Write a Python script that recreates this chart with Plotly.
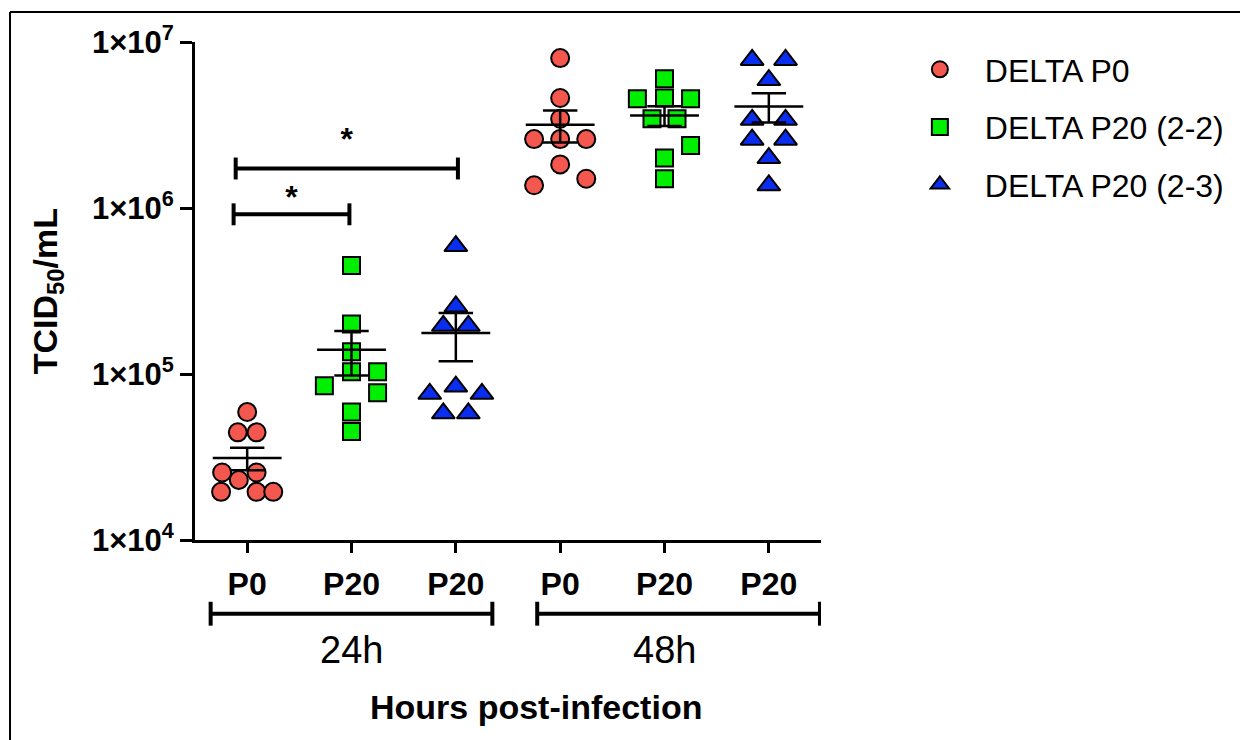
import numpy as np
import plotly.graph_objects as go

# ---------------- data ----------------
categories = ["P0", "P20", "P20", "P0", "P20", "P20"]
time_groups = ["24h", "48h"]
series_names = ["DELTA P0", "DELTA P20 (2-2)", "DELTA P20 (2-3)"]

p0_24h = [5.9e4, 4.45e4, 4.45e4, 2.55e4, 2.55e4, 2.3e4, 1.95e4, 1.95e4, 1.95e4]
p20_22_24h = [4.5e5, 2.0e5, 1.36e5, 1.03e5, 1.03e5, 8.5e4, 7.7e4, 5.9e4, 4.5e4]
p20_23_24h = [5.9e5, 2.55e5, 1.95e5, 1.95e5, 8.4e4, 7.6e4, 7.6e4, 5.8e4, 5.8e4]
p0_48h = [8.0e6, 4.6e6, 3.45e6, 2.6e6, 2.6e6, 2.6e6, 1.83e6, 1.5e6, 1.37e6]
p20_22_48h = [6.0e6, 4.55e6, 4.6e6, 4.55e6, 3.45e6, 3.45e6, 2.38e6, 2.0e6, 1.5e6]
p20_23_48h = [7.8e6, 7.8e6, 5.9e6, 3.4e6, 3.4e6, 2.58e6, 2.58e6, 2.0e6, 1.37e6]

# horizontal scatter offsets of the points within each column (category units)
p0_24h_jit = [0, -0.09, 0.09, -0.24, 0.09, -0.08, -0.25, 0.09, 0.25]
p20_22_24h_jit = [0, 0, 0, 0, 0.25, -0.26, 0.25, 0, 0]
p20_23_24h_jit = [0, 0, -0.12, 0.12, 0, -0.25, 0.25, -0.12, 0.12]
p0_48h_jit = [0, 0, 0, -0.25, 0, 0.25, 0, 0.25, -0.25]
p20_22_48h_jit = [0, -0.26, 0, 0.25, -0.12, 0.12, 0.25, 0, 0]
p20_23_48h_jit = [-0.16, 0.16, 0, -0.16, 0.16, -0.16, 0.16, 0, 0]

sig_pairs = [(0, 1), (0, 2)]
sig_labels = ["*", "*"]

# --------------- styling ---------------
colors = ["#F4574E", "#00EE00", "#0A2EF0"]
symbols = ["circle", "square", "triangle-up"]
msizes = [18, 17, 20]
FONT = "Liberation Sans, Arial, sans-serif"

series_data = [
    [(0, p0_24h, p0_24h_jit), (3, p0_48h, p0_48h_jit)],
    [(1, p20_22_24h, p20_22_24h_jit), (4, p20_22_48h, p20_22_48h_jit)],
    [(2, p20_23_24h, p20_23_24h_jit), (5, p20_23_48h, p20_23_48h_jit)],
]

fig = go.Figure()

for s, name in enumerate(series_names):
    xs, ys = [], []
    for cat, vals, jit in series_data[s]:
        xs += [cat + j for j in jit]
        ys += list(vals)
    fig.add_trace(go.Scatter(
        x=xs, y=ys, mode="markers", name=name, legendgroup=name,
        marker=dict(symbol=symbols[s], size=msizes[s], color=colors[s],
                    line=dict(color="black", width=2)),
        cliponaxis=False,
    ))

# mean and SEM lines
mx, my, ex, ey = [], [], [], []
for s in range(3):
    for cat, vals, jit in series_data[s]:
        v = np.array(vals, dtype=float)
        m = v.mean()
        sem = v.std(ddof=1) / np.sqrt(len(v))
        mx += [cat - 0.33, cat + 0.33, None]
        my += [m, m, None]
        ex += [cat, cat, None, cat - 0.165, cat + 0.165, None, cat - 0.165, cat + 0.165, None]
        ey += [m - sem, m + sem, None, m + sem, m + sem, None, m - sem, m - sem, None]
fig.add_trace(go.Scatter(x=mx, y=my, mode="lines", line=dict(color="black", width=2.5),
                         showlegend=False, hoverinfo="skip"))
fig.add_trace(go.Scatter(x=ex, y=ey, mode="lines", line=dict(color="black", width=2.5),
                         showlegend=False, hoverinfo="skip"))

# significance brackets
sig_y_log = [5.962, 6.238]
sig_star_log = [6.05, 6.395]
sig_left_off = [-0.13, -0.11]
sig_right_off = [-0.02, 0.02]
for k, (a, b) in enumerate(sig_pairs):
    x0 = a + sig_left_off[k]
    x1 = b + sig_right_off[k]
    yl = sig_y_log[k]
    fig.add_trace(go.Scatter(
        x=[x0, x0, None, x0, x1, None, x1, x1],
        y=[10 ** (yl - 0.066), 10 ** (yl + 0.066), None, 10 ** yl, 10 ** yl, None,
           10 ** (yl - 0.066), 10 ** (yl + 0.066)],
        mode="lines", line=dict(color="black", width=4), showlegend=False,
        hoverinfo="skip", cliponaxis=False))
    fig.add_trace(go.Scatter(
        x=[(x0 + x1) / 2], y=[10 ** sig_star_log[k]], mode="text", text=[sig_labels[k]],
        textfont=dict(family=FONT, size=32, color="black", weight="bold"),
        showlegend=False, hoverinfo="skip", cliponaxis=False))

# group brackets under the x axis
group_spans = [(-0.35, 2.35), (2.78, 5.49)]
group_centers = [1, 4]
for (gx0, gx1), gc, lab in zip(group_spans, group_centers, time_groups):
    fig.add_shape(type="line", xref="x", yref="paper", x0=gx0, x1=gx1, y0=-0.148, y1=-0.148,
                  line=dict(color="black", width=4))
    for gx in (gx0, gx1):
        fig.add_shape(type="line", xref="x", yref="paper", x0=gx, x1=gx, y0=-0.124, y1=-0.172,
                      line=dict(color="black", width=4))
    fig.add_annotation(x=gc, y=-0.22, xref="x", yref="paper", text=lab, showarrow=False,
                       font=dict(family=FONT, size=38, color="black"),
                       xanchor="center", yanchor="middle")

fig.add_annotation(x=0.545, y=-0.336, xref="paper", yref="paper",
                   text="Hours post-infection", showarrow=False,
                   font=dict(family=FONT, size=34, color="black", weight="bold"),
                   xanchor="center", yanchor="middle")

fig.add_annotation(x=-0.236, y=0.5, xref="paper", yref="paper",
                   text="TCID<sub>50</sub>/mL", showarrow=False, textangle=-90,
                   font=dict(family=FONT, size=34, color="black", weight="bold"),
                   xanchor="center", yanchor="middle")

# outer frame lines (left and top)
fig.add_shape(type="line", xref="paper", yref="paper", x0=-0.2955, x1=-0.2955, y0=-0.43, y1=1.06,
              line=dict(color="black", width=2))
fig.add_shape(type="line", xref="paper", yref="paper", x0=-0.2955, x1=1.67, y0=1.06, y1=1.06,
              line=dict(color="black", width=2))

fig.update_layout(
    width=1248, height=740,
    margin=dict(l=187, r=435, t=32, b=208),
    paper_bgcolor="white", plot_bgcolor="white",
    font=dict(family=FONT, color="black"),
    legend=dict(x=1.118, y=1.0, xanchor="left", yanchor="top",
                font=dict(family=FONT, size=32, color="black"),
                itemwidth=80, tracegroupgap=13, bgcolor="rgba(0,0,0,0)"),
    xaxis=dict(range=[-0.5, 5.5], tickvals=list(range(6)), ticktext=categories,
               showline=True, linewidth=3, linecolor="black", ticks="outside",
               ticklen=10, tickwidth=3, tickcolor="black", showgrid=False, zeroline=False,
               tickfont=dict(family=FONT, size=32, color="black", weight="bold"),
               ticklabelstandoff=4),
    yaxis=dict(type="log", range=[4, 7], tickvals=[1e4, 1e5, 1e6, 1e7],
               ticktext=["1×10<sup>4</sup>", "1×10<sup>5</sup>", "1×10<sup>6</sup>", "1×10<sup>7</sup>"],
               showline=True, linewidth=3, linecolor="black", ticks="outside",
               ticklen=12, tickwidth=3, tickcolor="black", showgrid=False, zeroline=False,
               tickfont=dict(family=FONT, size=31, color="black", weight="bold")),
)

fig.write_html("out.html")
